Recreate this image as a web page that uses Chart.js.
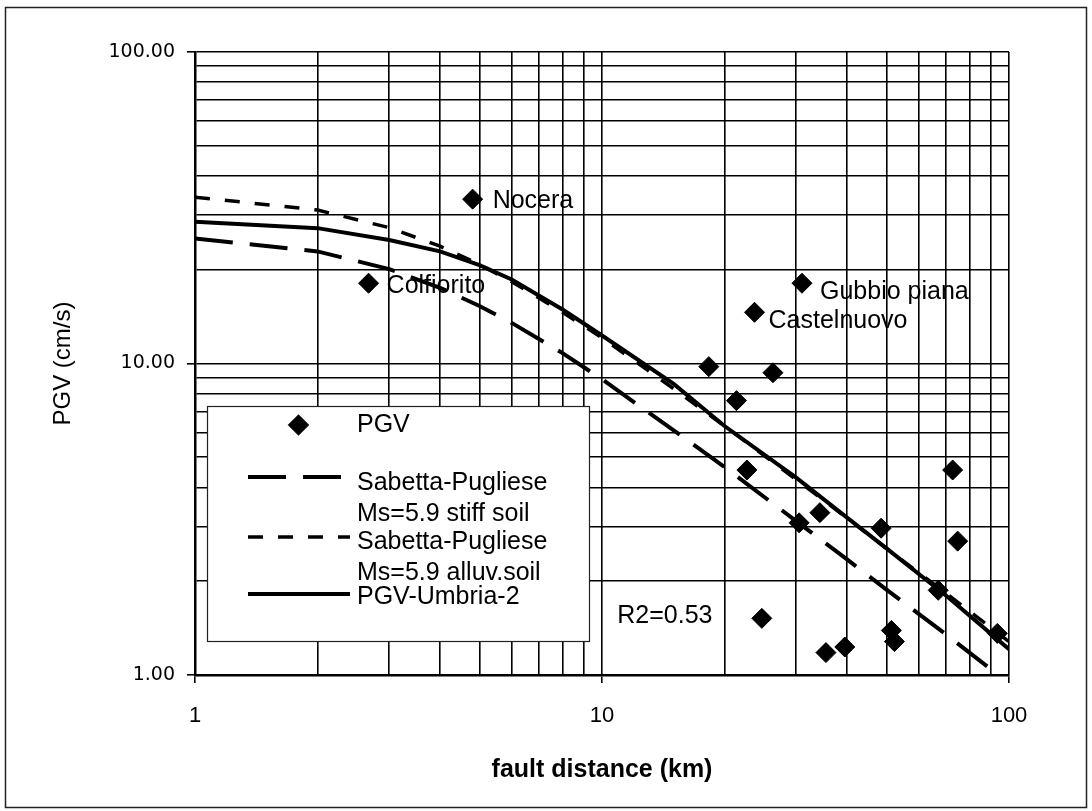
<!DOCTYPE html>
<html lang="en">
<head>
<meta charset="UTF-8">
<title>PGV vs fault distance</title>
<script src="https://cdn.jsdelivr.net/npm/chart.js"></script>
<style>
  html, body { margin: 0; padding: 0; background: #fff; }
</style>
</head>
<body>
<canvas id="pgvChart" width="1092" height="811"></canvas>
<script>
  // recorded stations: fault distance (km) and PGV (cm/s)
  const pgvDist = [4.81, 2.67, 31.0, 23.7, 18.3, 26.3, 21.4, 22.7, 72.7, 30.5, 34.3, 48.5, 74.8, 67.0, 24.7, 35.5, 39.5, 51.4, 52.3, 93.6];
  const pgvVal  = [33.7, 18.1, 18.1, 14.6, 9.77, 9.34, 7.60, 4.55, 4.55, 3.08, 3.32, 2.96, 2.69, 1.87, 1.52, 1.18, 1.23, 1.39, 1.28, 1.36];
  const pgvSite = ['Nocera', 'Colfiorito', 'Gubbio piana', 'Castelnuovo', '', '', '', '', '', '', '', '', '', '', '', '', '', '', '', ''];

  // attenuation curves, all sampled at the same distances
  const curveDist    = [1, 2, 3, 4, 5, 6, 8, 10, 15, 20, 30, 40, 50, 70, 100];
  const sabettaStiff = [25.2, 22.9, 20.1, 17.5, 15.3, 13.5, 10.8, 8.9, 6.1, 4.65, 3.12, 2.35, 1.88, 1.35, 0.94];
  const sabettaAlluv = [34.2, 31.1, 27.3, 23.8, 20.8, 18.3, 14.6, 12.1, 8.3, 6.3, 4.24, 3.19, 2.55, 1.83, 1.28];
  const umbria2      = [28.5, 27.2, 24.9, 22.9, 20.7, 18.6, 14.9, 12.3, 8.6, 6.3, 4.3, 3.2, 2.55, 1.8, 1.21];

  // log grid and the ticks that carry a label
  const gridValues  = [1, 2, 3, 4, 5, 6, 7, 8, 9, 10, 20, 30, 40, 50, 60, 70, 80, 90, 100];
  const xLabelTicks = [1, 10, 100];
  const yLabelTicks = [1, 10, 100];

  const r2Text = 'R2=0.53';
  const r2At = [10.9, 1.54];

  // where the station names sit relative to their marker (px)
  const siteOffsets = {
    'Nocera': [20, 2],
    'Colfiorito': [18, 3],
    'Gubbio piana': [18, 9],
    'Castelnuovo': [14, 9]
  };

  const FONT = '"Liberation Sans", Arial, Helvetica, sans-serif';
  Chart.defaults.font.family = FONT;
  Chart.defaults.color = '#000';

  const toXY = (xs, ys) => xs.map((v, i) => ({ x: v, y: ys[i] }));
  const labelTick = (list, c) => list.includes(c.tick.value) ? '#000' : 'rgba(0,0,0,0)';

  // white page with a thin frame round the whole figure
  const pageFrame = {
    id: 'pageFrame',
    beforeDraw(chart) {
      const { ctx, width, height } = chart;
      ctx.save();
      ctx.fillStyle = '#fff';
      ctx.fillRect(0, 0, width, height);
      ctx.strokeStyle = '#222';
      ctx.lineWidth = 1.5;
      ctx.strokeRect(5.5, 7.5, width - 11, height - 11);
      ctx.restore();
    }
  };

  // station names next to their diamonds, and the R2 note
  const siteLabels = {
    id: 'siteLabels',
    afterDatasetsDraw(chart) {
      const { ctx, scales: { x, y } } = chart;
      ctx.save();
      ctx.font = '25px ' + FONT;
      ctx.fillStyle = '#000';
      ctx.textBaseline = 'middle';
      ctx.textAlign = 'left';
      pgvSite.forEach((name, i) => {
        if (!name) return;
        const [dx, dy] = siteOffsets[name];
        ctx.fillText(name, x.getPixelForValue(pgvDist[i]) + dx, y.getPixelForValue(pgvVal[i]) + dy);
      });
      ctx.fillText(r2Text, x.getPixelForValue(r2At[0]), y.getPixelForValue(r2At[1]));
      ctx.restore();
    }
  };

  // boxed legend inside the plot, two-line labels
  const legendBox = { left: 207, top: 406, right: 589, bottom: 641, sampleFrom: 248, sampleTo: 350, textX: 357, lineGap: 31 };
  const legendRows = [
    { ds: 0, sampleY: 425, textY: 425 },
    { ds: 1, sampleY: 477, textY: 483 },
    { ds: 2, sampleY: 537, textY: 542 },
    { ds: 3, sampleY: 594, textY: 597 }
  ];
  const boxLegend = {
    id: 'boxLegend',
    afterDraw(chart) {
      const { ctx } = chart;
      const b = legendBox;
      ctx.save();
      ctx.fillStyle = '#fff';
      ctx.fillRect(b.left, b.top, b.right - b.left, b.bottom - b.top);
      ctx.strokeStyle = '#222';
      ctx.lineWidth = 1.2;
      ctx.strokeRect(b.left + 0.5, b.top + 0.5, b.right - b.left, b.bottom - b.top);

      legendRows.forEach(row => {
        const ds = chart.data.datasets[row.ds];
        if (ds.showLine === false) {
          Chart.helpers.drawPoint(ctx, { pointStyle: 'rectRot', radius: ds.pointRadius, rotation: 0, borderWidth: 1 },
            (b.sampleFrom + b.sampleTo) / 2 - 0.5, row.sampleY);
          ctx.fillStyle = ds.pointBackgroundColor;
          ctx.fill();
        } else {
          ctx.beginPath();
          ctx.setLineDash(ds.borderDash || []);
          ctx.lineWidth = ds.borderWidth;
          ctx.strokeStyle = ds.borderColor;
          ctx.moveTo(b.sampleFrom, row.sampleY);
          ctx.lineTo(b.sampleTo, row.sampleY);
          ctx.stroke();
          ctx.setLineDash([]);
        }
        ctx.font = '25px ' + FONT;
        ctx.fillStyle = '#000';
        ctx.textBaseline = 'middle';
        ds.label.split('\n').forEach((t, k) => ctx.fillText(t, b.textX, row.textY + k * b.lineGap));
      });
      ctx.restore();
    }
  };

  const gridStyle = (list) => ({
    color: '#000',
    lineWidth: 1.6,
    tickLength: 8,
    tickColor: c => labelTick(list, c)
  });

  new Chart(document.getElementById('pgvChart'), {
    type: 'line',
    data: {
      datasets: [
        {
          label: 'PGV',
          data: toXY(pgvDist, pgvVal),
          showLine: false,
          pointStyle: 'rectRot',
          pointRadius: 10,
          pointBackgroundColor: '#000',
          pointBorderColor: '#000',
          pointBorderWidth: 1
        },
        {
          label: 'Sabetta-Pugliese\nMs=5.9 stiff soil',
          data: toXY(curveDist, sabettaStiff),
          borderColor: '#000',
          borderWidth: 4,
          borderDash: [38, 17],
          pointRadius: 0,
          tension: 0
        },
        {
          label: 'Sabetta-Pugliese\nMs=5.9 alluv.soil',
          data: toXY(curveDist, sabettaAlluv),
          borderColor: '#000',
          borderWidth: 3.5,
          borderDash: [15, 15],
          pointRadius: 0,
          tension: 0
        },
        {
          label: 'PGV-Umbria-2',
          data: toXY(curveDist, umbria2),
          borderColor: '#000',
          borderWidth: 4,
          pointRadius: 0,
          tension: 0
        }
      ]
    },
    options: {
      responsive: false,
      animation: false,
      layout: { padding: { top: 52, right: 83, left: 0, bottom: 0 } },
      plugins: {
        legend: { display: false },
        tooltip: { enabled: false }
      },
      scales: {
        x: {
          type: 'logarithmic',
          position: 'bottom',
          min: 1,
          max: 100,
          afterBuildTicks: s => { s.ticks = gridValues.map(v => ({ value: v })); },
          afterFit: s => { s.height = 136; },
          grid: gridStyle(xLabelTicks),
          border: { color: '#000', width: 2.5 },
          ticks: {
            autoSkip: false,
            maxRotation: 0,
            padding: 20,
            font: { size: 22 },
            color: '#000',
            callback: v => xLabelTicks.includes(v) ? String(v) : ''
          },
          title: {
            display: true,
            text: 'fault distance (km)',
            font: { size: 25, weight: 'bold' },
            color: '#000',
            padding: { top: 0, bottom: 26 }
          }
        },
        y: {
          type: 'logarithmic',
          min: 1,
          max: 100,
          afterBuildTicks: s => { s.ticks = gridValues.map(v => ({ value: v })); },
          afterFit: s => { s.width = 195; },
          grid: gridStyle(yLabelTicks),
          border: { color: '#000', width: 2.5 },
          ticks: {
            autoSkip: false,
            padding: 12,
            font: { family: '"DejaVu Sans", Verdana, sans-serif', size: 19 },
            color: '#000',
            callback: v => yLabelTicks.includes(v) ? v.toFixed(2) : ''
          },
          title: {
            display: true,
            text: 'PGV (cm/s)',
            font: { size: 24 },
            color: '#000',
            padding: { top: 49, bottom: 0 }
          }
        }
      }
    },
    plugins: [pageFrame, siteLabels, boxLegend]
  });
</script>
</body>
</html>
